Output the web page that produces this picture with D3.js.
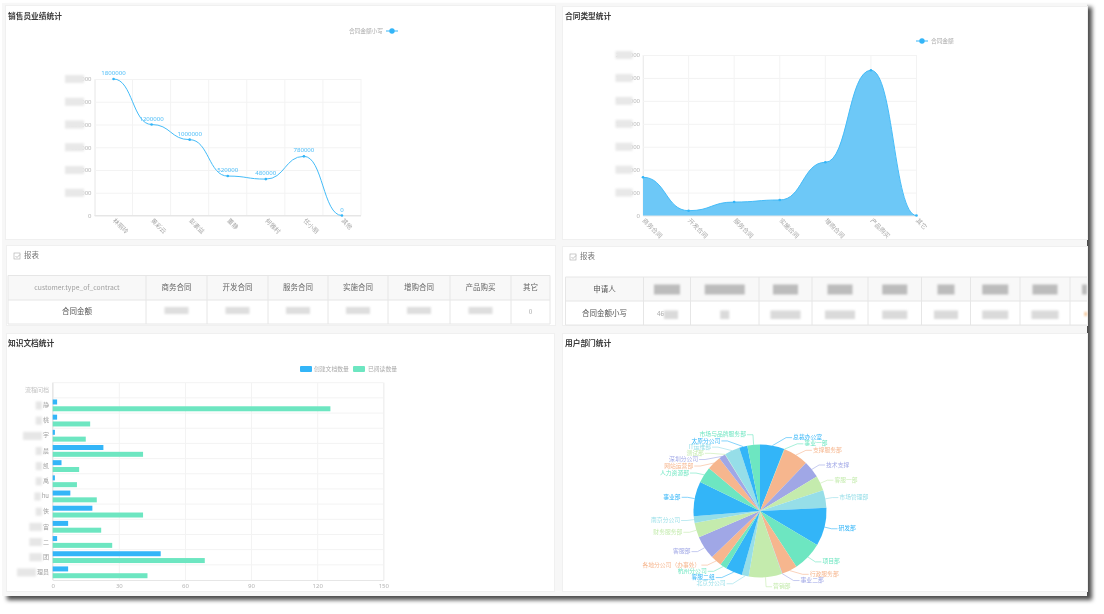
<!DOCTYPE html>
<html>
<head>
<meta charset="utf-8">
<script src="https://cdn.jsdelivr.net/npm/d3@7"></script>
<style>
  html, body { margin: 0; padding: 0; background: #fff; overflow: hidden; }
  svg { display: block; filter: blur(0.4px); }
  text { font-family: "Noto Sans CJK SC", "Noto Sans", sans-serif; }
</style>
</head>
<body>
<svg id="page" width="1104" height="614"></svg>
<script>
// Sales per person
var salesNames = ["林丽玲", "黄彩云", "彭素益", "董静", "何雅村", "任小丽", "其他"];
var salesValues = [1800000, 1200000, 1000000, 520000, 480000, 780000, 0];
var salesTicks = [0, 300000, 600000, 900000, 1200000, 1500000, 1800000];

// Contract types
var contractTypes = ["商务合同", "开发合同", "服务合同", "实施合同", "增购合同", "产品购买", "其它"];
var contractValues = [500000, 63000, 176000, 203000, 696000, 1900000, 0];
var contractTicks = [0, 300000, 600000, 900000, 1200000, 1500000, 1800000, 2100000];

// Knowledge documents, names are only partly readable in the picture
var docNames = ["流程问档", "静", "桃", "宇", "晨", "凯", "禹", "hu", "侠", "宙", "二", "团", "理员"];
var docHiddenChars = [0, 1, 1, 3, 1, 1, 1, 1, 1, 2, 2, 2, 3];
var docCreated = [0, 2, 2, 1, 23, 4, 1, 8, 18, 7, 2, 49, 7];
var docRead = [0, 126, 17, 15, 41, 12, 11, 20, 41, 22, 27, 69, 43];
var docTicks = [0, 30, 60, 90, 120, 150];

// Departments, values read as share of the circle
var deptNames = ["总裁办公室", "事业一部", "支撑服务部", "技术支撑", "客服一部", "市场管理部", "研发部", "项目部",
  "行政服务部", "事业二部", "营销部", "北京分公司", "客服二组", "杭州分公司", "各地分公司（办事处）", "客服部",
  "财务服务部", "南京分公司", "事业部", "人力资源部", "网站运营部", "深圳分公司", "测试部", "IT运维部", "太原分公司",
  "市场与品牌服务部"];
var deptValues = [21.4, 0.3, 22, 15, 13, 15.4, 33.6, 26, 13.5, 0.3, 29.2, 6, 14.7, 5.8, 9.8, 20.5,
  12.9, 5.9, 30.4, 14, 12.4, 5.8, 0.3, 13.3, 7.2, 11];
var deptColors = ["#33b5f8", "#6de6c1", "#f6b68e", "#a0a7e6", "#c4ebad", "#96dee8"];

var blue = "#33b5f8";
var green = "#6de6c1";
var gridColor = "#f3f3f3";
var axisColor = "#e6e6e6";
var tickColor = "#b4b4b4";

var svg = d3.select("#page");

// Blur used for the masked names and numbers
svg.append("defs").append("filter").attr("id", "mosaic")
  .attr("x", "-30%").attr("y", "-60%").attr("width", "160%").attr("height", "220%")
  .append("feGaussianBlur").attr("stdDeviation", 1.2);

// Window and its shadow
svg.append("rect").attr("x", 2).attr("y", 3).attr("width", 1085).attr("height", 593)
  .attr("fill", "#f7f7f7").style("filter", "drop-shadow(5px 4px 2px rgba(0,0,0,.7))");

function card(x, y, w, h) {
  svg.append("rect").attr("x", x + 0.5).attr("y", y + 0.5).attr("width", w).attr("height", h)
    .attr("fill", "#fff").attr("stroke", "#f0f0f0");
}

function title(x, y, str) {
  svg.append("text").attr("x", x).attr("y", y).attr("font-size", 7.7).attr("font-weight", 700)
    .attr("fill", "#3a3a3a").attr("dominant-baseline", "middle").text(str);
}

function mask(x, y, w, h, color) {
  svg.append("rect").attr("x", x).attr("y", y).attr("width", w).attr("height", h)
    .attr("fill", color).attr("filter", "url(#mosaic)");
}

card(5, 5, 550, 234);
card(562, 6, 525, 233);
card(6, 245, 549, 80);
card(562, 246, 525, 79);
card(6, 333, 548, 258);
card(562, 333, 525, 258);
title(8, 17, "销售员业绩统计");
title(565, 17, "合同类型统计");
title(8, 344, "知识文档统计");
title(565, 344, "用户部门统计");

// Grid, value axis and rotated category labels for the two line charts
function lineFrame(x, y, ticks, gridEdges, maskLeft, maskWidth) {
  var left = x.range()[0], right = x.range()[1];
  var yAxis = svg.append("g").attr("transform", "translate(" + left + ",0)")
    .call(d3.axisLeft(y).tickValues(ticks).tickSize(-(right - left)).tickPadding(3));
  yAxis.select(".domain").attr("stroke", axisColor);
  yAxis.selectAll("line").attr("stroke", gridColor);
  yAxis.selectAll("text").attr("font-size", 6).attr("fill", tickColor)
    .style("font-family", "'Noto Sans', sans-serif")
    .text(function (d) { return d; });

  svg.append("g").selectAll("line").data(gridEdges).enter().append("line")
    .attr("x1", function (d) { return d; }).attr("x2", function (d) { return d; })
    .attr("y1", y.range()[1]).attr("y2", y.range()[0]).attr("stroke", gridColor);
  svg.append("line").attr("x1", left).attr("x2", right)
    .attr("y1", y(0)).attr("y2", y(0)).attr("stroke", axisColor);

  // Hide the leading digits of the axis numbers, as in the picture
  ticks.slice(1).forEach(function (t) {
    mask(maskLeft, y(t) - 4, maskWidth, 8, "#e8e8e8");
  });
}

function catLabels(names, px, top) {
  svg.append("g").selectAll("text").data(names).enter().append("text")
    .attr("transform", function (d, i) { return "translate(" + (px(i) - 1) + "," + top + ") rotate(45)"; })
    .attr("font-size", 6.2).attr("fill", "#a8a8a8").text(function (d) { return d; });
}

function legendLine(cx, cy) {
  svg.append("line").attr("x1", cx - 6).attr("x2", cx + 6).attr("y1", cy).attr("y2", cy)
    .attr("stroke", blue);
  svg.append("circle").attr("cx", cx).attr("cy", cy).attr("r", 2.7).attr("fill", blue);
}

function dots(pts) {
  svg.append("g").selectAll("circle").data(pts).enter().append("circle")
    .attr("cx", function (d) { return d[0]; }).attr("cy", function (d) { return d[1]; })
    .attr("r", 1.3).attr("fill", blue);
}

// --- Sales line chart ---
var salesX = d3.scaleBand().domain(salesNames).range([94.5, 361]);
var salesY = d3.scaleLinear().domain([0, 1800000]).range([215.5, 79]);
var salesEdges = salesNames.map(function (d) { return salesX(d) + salesX.bandwidth(); });
lineFrame(salesX, salesY, salesTicks, salesEdges, 65, 19);
catLabels(salesNames, function (i) { return salesX(salesNames[i]) + salesX.bandwidth() / 2; }, 221);

var salesPts = salesValues.map(function (v, i) {
  return [salesX(salesNames[i]) + salesX.bandwidth() / 2, salesY(v)];
});
svg.append("path").attr("d", d3.line().curve(d3.curveBumpX)(salesPts))
  .attr("fill", "none").attr("stroke", "#45bcf8").attr("stroke-width", 1);
dots(salesPts);
svg.append("g").selectAll("text").data(salesValues).enter().append("text")
  .attr("x", function (d, i) { return salesPts[i][0]; })
  .attr("y", function (d, i) { return salesPts[i][1] - 4; })
  .attr("text-anchor", "middle").attr("font-size", 6.1).attr("fill", "#4fbef8")
  .style("font-family", "'Noto Sans', sans-serif").text(function (d) { return d; });

legendLine(392, 31);
svg.append("text").attr("x", 383).attr("y", 31).attr("text-anchor", "end").attr("dominant-baseline", "middle")
  .attr("font-size", 5.7).attr("fill", "#aaa").text("合同金额小写");

// --- Contract type area chart ---
var contractX = d3.scalePoint().domain(contractTypes).range([643, 916.5]);
var contractY = d3.scaleLinear().domain([0, 2100000]).range([215.5, 55]);
lineFrame(contractX, contractY, contractTicks, contractTypes.map(function (d) { return contractX(d); }), 615.5, 17);
catLabels(contractTypes, function (i) { return contractX(contractTypes[i]); }, 221);

var contractPts = contractValues.map(function (v, i) { return [contractX(contractTypes[i]), contractY(v)]; });
svg.append("path")
  .attr("d", d3.area().curve(d3.curveBumpX).y0(contractY(0))(contractPts))
  .attr("fill", "#6dc8f7");
svg.append("path").attr("d", d3.line().curve(d3.curveBumpX)(contractPts))
  .attr("fill", "none").attr("stroke", "#45bcf8").attr("stroke-width", 1);
dots(contractPts);

legendLine(922, 41);
svg.append("text").attr("x", 931).attr("y", 41).attr("dominant-baseline", "middle")
  .attr("font-size", 5.7).attr("fill", "#aaa").text("合同金额");

// --- Report tables ---
function tableHead(x, y) {
  svg.append("rect").attr("x", x).attr("y", y - 3).attr("width", 6).attr("height", 6)
    .attr("fill", "none").attr("stroke", "#aaa").attr("stroke-width", 0.6);
  svg.append("path").attr("d", "M" + (x + 1.5) + "," + y + "l1.5,1.5l3,-3").attr("fill", "none").attr("stroke", "#999").attr("stroke-width", 0.6);
  svg.append("text").attr("x", x + 10).attr("y", y).attr("dominant-baseline", "middle")
    .attr("font-size", 7.5).attr("fill", "#777").text("报表");
}

function drawTable(edges, top, mid, bottom, clipRight) {
  var right = Math.min(edges[edges.length - 1], clipRight);
  svg.append("rect").attr("x", edges[0]).attr("y", top).attr("width", right - edges[0]).attr("height", mid - top).attr("fill", "#f8f8f8");
  svg.append("g").selectAll("line").data(edges.filter(function (e) { return e <= clipRight; })).enter().append("line")
    .attr("x1", function (d) { return d; }).attr("x2", function (d) { return d; })
    .attr("y1", top).attr("y2", bottom).attr("stroke", "#e6e6e6");
  svg.append("g").selectAll("line").data([top, mid, bottom]).enter().append("line")
    .attr("x1", edges[0]).attr("x2", right)
    .attr("y1", function (d) { return d; }).attr("y2", function (d) { return d; }).attr("stroke", "#e6e6e6");
}

function cellText(x, y, str, color, size) {
  svg.append("text").attr("x", x).attr("y", y).attr("text-anchor", "middle").attr("dominant-baseline", "middle")
    .attr("font-size", size || 7.5).attr("fill", color).text(str);
}

var table1Edges = [8, 146, 207, 268, 328, 388, 450, 511, 550];
var table1Head = ["customer.type_of_contract"].concat(contractTypes);
tableHead(14, 256);
drawTable(table1Edges, 275.5, 300, 324, 1087);
table1Head.forEach(function (h, i) {
  var c = (table1Edges[i] + table1Edges[i + 1]) / 2;
  cellText(c, 288, h, i == 0 ? "#a0a0a0" : "#666", i == 0 ? 6.8 : 7.5);
  if (i == 0) cellText(c, 312, "合同金额", "#555");
  else if (i == 7) cellText(c, 312, "0", "#aaa", 6.5);
  else mask(c - 12, 307, 24, 7, "#dedede");
});

var table2Edges = [565.5, 643.5, 690.5, 759, 812, 868, 921.5, 970.5, 1020, 1070, 1120];
var table2MaskW = [26, 40, 25, 25, 25, 17, 26, 25, 25];
var table2ValueW = [14, 9, 30, 30, 25, 24, 26, 27, 0];
tableHead(570, 257);
drawTable(table2Edges, 277, 301, 325, 1087);
cellText((table2Edges[0] + table2Edges[1]) / 2, 289.5, "申请人", "#555");
cellText((table2Edges[0] + table2Edges[1]) / 2, 313.5, "合同金额小写", "#555");
svg.append("text").attr("x", 657).attr("y", 314).attr("dominant-baseline", "middle")
  .attr("font-size", 6.5).attr("fill", "#aaa").text("46");
table2MaskW.forEach(function (w, i) {
  var c = (table2Edges[i + 1] + table2Edges[i + 2]) / 2;
  if (i < 8) {
    mask(c - w / 2, 284.5, w, 10, "#bcbcbc");
    mask(i == 0 ? 664 : c - table2ValueW[i] / 2, 310.5, table2ValueW[i], 8.5, "#dadada");
  } else {
    mask(1082, 284.5, 5, 10, "#bcbcbc");
    mask(1084.5, 312, 2.5, 4, "#f3c08f");
  }
});

// --- Document bars ---
var barX = d3.scaleLinear().domain([0, 150]).range([52.7, 383.3]);
var barY = d3.scaleBand().domain(docNames).range([382.7, 580]);

var barGridX = svg.append("g").attr("transform", "translate(0,580)")
  .call(d3.axisBottom(barX).tickValues(docTicks).tickSize(-197.3).tickPadding(4));
barGridX.select(".domain").attr("stroke", axisColor);
barGridX.selectAll("line").attr("stroke", gridColor);
barGridX.selectAll("text").attr("font-size", 6).attr("fill", tickColor).style("font-family", "'Noto Sans', sans-serif");

svg.append("g").selectAll("line").data(docNames).enter().append("line")
  .attr("x1", 52.7).attr("x2", 383.3)
  .attr("y1", function (d) { return barY(d); }).attr("y2", function (d) { return barY(d); })
  .attr("stroke", gridColor);
svg.append("line").attr("x1", 52.7).attr("x2", 52.7).attr("y1", 382.7).attr("y2", 580).attr("stroke", axisColor);

svg.append("g").selectAll("rect").data(docCreated).enter().append("rect")
  .attr("x", barX(0)).attr("y", function (d, i) { return barY(docNames[i]) + 1.6; })
  .attr("width", function (d) { return barX(d) - barX(0); }).attr("height", 5).attr("fill", blue);
svg.append("g").selectAll("rect").data(docRead).enter().append("rect")
  .attr("x", barX(0)).attr("y", function (d, i) { return barY(docNames[i]) + 8.4; })
  .attr("width", function (d) { return barX(d) - barX(0); }).attr("height", 5).attr("fill", green);

docNames.forEach(function (name, i) {
  var cy = barY(name) + barY.bandwidth() / 2;
  var label = svg.append("text").attr("x", 49).attr("y", cy).attr("text-anchor", "end").attr("dominant-baseline", "middle")
    .attr("font-size", 6).attr("fill", i == 0 ? "#c4c4c4" : "#a0a0a0").text(name);
  if (docHiddenChars[i] > 0) {
    var w = docHiddenChars[i] * 6.3;
    mask(49 - label.node().getComputedTextLength() - w - 1, cy - 4, w, 8, "#e6e6e6");
  }
});

svg.append("rect").attr("x", 300).attr("y", 366).attr("width", 12).attr("height", 6).attr("rx", 1).attr("fill", blue);
svg.append("text").attr("x", 314).attr("y", 369).attr("dominant-baseline", "middle").attr("font-size", 5.8).attr("fill", "#aaa").text("创建文档数量");
svg.append("rect").attr("x", 353).attr("y", 366).attr("width", 12).attr("height", 6).attr("rx", 1).attr("fill", green);
svg.append("text").attr("x", 368).attr("y", 369).attr("dominant-baseline", "middle").attr("font-size", 5.8).attr("fill", "#aaa").text("已阅读数量");

// --- Department pie ---
var pieX = 760, pieY = 511, pieR = 66.5, lead1 = 7, lead2 = 7, rowH = 6.2;
var slices = d3.pie().sort(null)(deptValues);
var pieG = svg.append("g").attr("transform", "translate(" + pieX + "," + pieY + ")");
pieG.selectAll("path").data(slices).enter().append("path")
  .attr("d", d3.arc().innerRadius(0).outerRadius(pieR))
  .attr("fill", function (d, i) { return deptColors[i % 6]; });

var labels = slices.map(function (s, i) {
  var a = (s.startAngle + s.endAngle) / 2;
  var r = pieR + lead1;
  return {
    name: deptNames[i], color: deptColors[i % 6], a: a,
    dir: Math.sin(a) >= 0 ? 1 : -1,
    x: pieX + r * Math.sin(a) + (Math.sin(a) >= 0 ? lead2 : -lead2),
    y: pieY - r * Math.cos(a)
  };
});

// Push crowded labels apart on each side and slide them along the ring
[1, -1].forEach(function (dir) {
  var list = labels.filter(function (l) { return l.dir == dir; }).sort(function (a, b) { return a.y - b.y; });
  function shiftUp(end, delta) {
    for (var j = end; j >= 0; j--) {
      list[j].y -= delta;
      if (j > 0 && list[j].y > list[j - 1].y + rowH) break;
    }
  }
  function shiftDown(start, delta) {
    for (var j = start; j < list.length; j++) {
      list[j].y += delta;
      if (j > start && j + 1 < list.length && list[j + 1].y > list[j].y + rowH) {
        shiftUp(j, delta / 2);
        return;
      }
    }
    shiftUp(list.length - 1, delta / 2);
  }
  var lastY = 0;
  list.forEach(function (l, i) {
    var delta = l.y - lastY;
    if (delta < 0) shiftDown(i, -delta);
    lastY = l.y + rowH;
  });
  list.forEach(function (l) {
    var dy = Math.abs(l.y - pieY);
    if (dy < pieR + lead1) {
      l.x = pieX + dir * Math.sqrt(Math.pow(pieR + lead1 + lead2, 2) - dy * dy);
    }
  });
});

svg.append("g").selectAll("path").data(labels).enter().append("path")
  .attr("fill", "none").attr("stroke-width", 0.6)
  .attr("stroke", function (d) { return d.color; })
  .attr("d", function (d) {
    return d3.line()([
      [pieX + pieR * Math.sin(d.a), pieY - pieR * Math.cos(d.a)],
      [d.x - d.dir * lead2, d.y],
      [d.x - d.dir, d.y]
    ]);
  });
svg.append("g").selectAll("text").data(labels).enter().append("text")
  .attr("x", function (d) { return d.x; }).attr("y", function (d) { return d.y; })
  .attr("text-anchor", function (d) { return d.dir > 0 ? "start" : "end"; })
  .attr("dominant-baseline", "middle").attr("font-size", 5.8)
  .attr("fill", function (d) { return d.color; }).text(function (d) { return d.name; });
</script>
</body>
</html>
